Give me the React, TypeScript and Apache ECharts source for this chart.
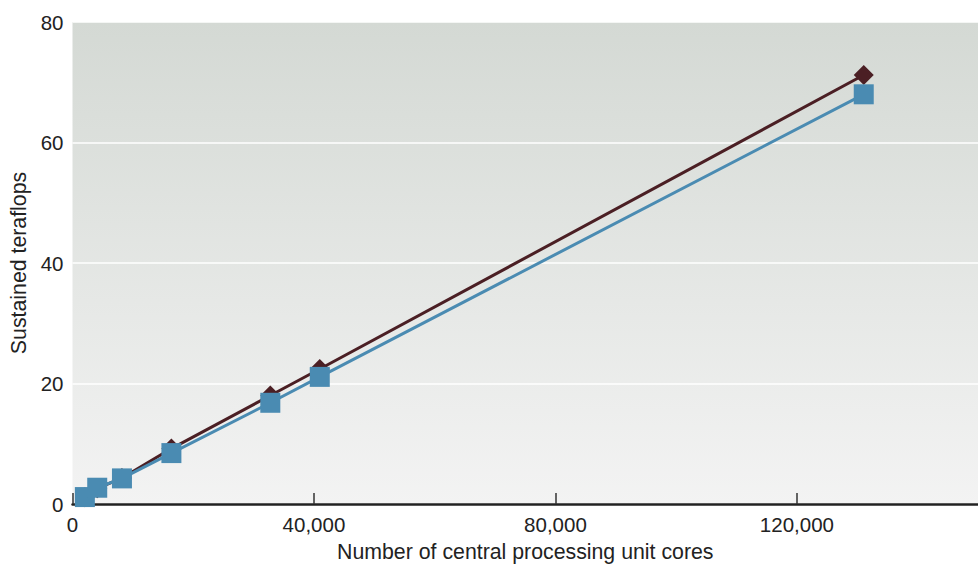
import React, { useEffect, useRef } from "react";
import * as echarts from "echarts";

const cores = [2048, 4096, 8192, 16384, 32768, 40960, 131072];
const teraflopsPeakRun = [1.1, 2.6, 4.3, 9.2, 18.0, 22.4, 71.2];
const teraflopsSustainedRun = [1.15, 2.7, 4.25, 8.45, 16.8, 21.1, 68.0];
const yTicks = [0, 20, 40, 60, 80];

const FONT = "'Liberation Sans', Arial, Helvetica, sans-serif";

export default function App() {
  const ref = useRef<HTMLDivElement>(null);
  useEffect(() => {
    document.body.style.margin = "0";
    const chart = echarts.init(ref.current!, null, { renderer: "svg" });
    const fmt = (v: number) => v.toLocaleString("en-US");
    chart.setOption({
      animation: false,
      backgroundColor: "#ffffff",
      grid: {
        left: 72.5,
        right: -2,
        top: 22,
        bottom: 57,
        show: true,
        borderWidth: 0,
        backgroundColor: new echarts.graphic.LinearGradient(0, 0, 0, 1, [
          { offset: 0, color: "#d4d9d4" },
          { offset: 1, color: "#f3f3f3" },
        ]),
      },
      xAxis: {
        type: "value",
        min: 0,
        max: 150000,
        interval: 40000,
        name: "Number of central processing unit cores",
        nameLocation: "middle",
        nameGap: 37,
        nameTextStyle: { fontFamily: FONT, fontSize: 21.3, color: "#222" },
        axisLine: { show: true, lineStyle: { color: "#222", width: 2.5 } },
        axisTick: { show: true, inside: true, length: 11, lineStyle: { color: "#333", width: 1.5 } },
        axisLabel: {
          formatter: fmt,
          showMaxLabel: false,
          margin: 10,
          fontFamily: FONT,
          fontSize: 20.5,
          color: "#222",
        },
        splitLine: { show: false },
      },
      yAxis: {
        type: "value",
        min: yTicks[0],
        max: yTicks[yTicks.length - 1],
        interval: yTicks[1] - yTicks[0],
        name: "Sustained teraflops",
        nameLocation: "middle",
        nameGap: 41,
        nameTextStyle: { fontFamily: FONT, fontSize: 21.3, color: "#222" },
        axisLine: { show: false },
        axisTick: { show: false },
        axisLabel: { margin: 9, fontFamily: FONT, fontSize: 20.5, color: "#222" },
        splitLine: { show: true, lineStyle: { color: "#ffffff", width: 1.5 } },
      },
      series: [
        {
          name: "Peak",
          type: "line",
          data: cores.map((c, i) => [c, teraflopsPeakRun[i]]),
          symbol: "diamond",
          symbolSize: 20,
          showAllSymbol: true,
          clip: false,
          lineStyle: { color: "#4b1f24", width: 3 },
          itemStyle: { color: "#4b1f24" },
          z: 3,
        },
        {
          name: "Sustained",
          type: "line",
          data: cores.map((c, i) => [c, teraflopsSustainedRun[i]]),
          symbol: "rect",
          symbolSize: 20,
          showAllSymbol: true,
          clip: false,
          lineStyle: { color: "#4a8bb2", width: 3 },
          itemStyle: { color: "#4a8bb2" },
          z: 4,
        },
      ],
    });
    return () => chart.dispose();
  }, []);
  return <div ref={ref} style={{ width: 978, height: 567 }} />;
}
